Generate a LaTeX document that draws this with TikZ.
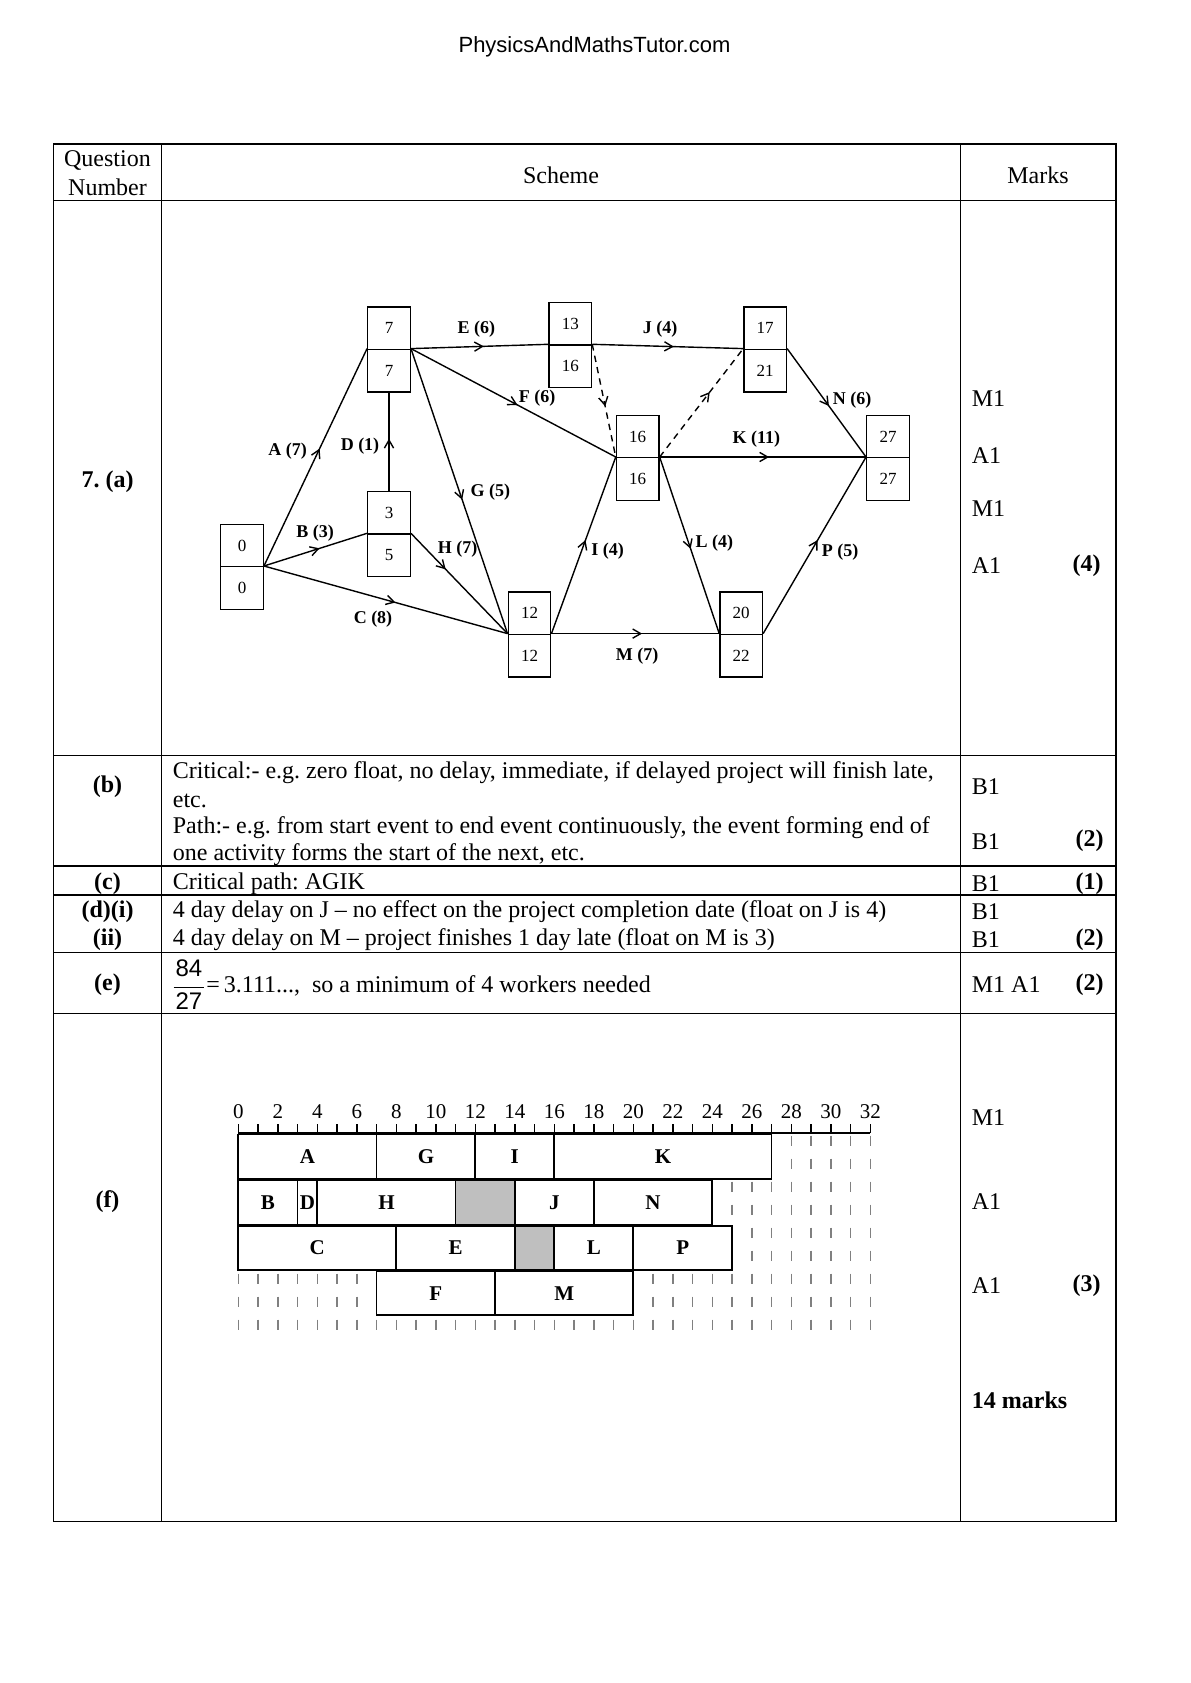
\documentclass[tikz,border=0pt]{standalone}
\usepackage{fontspec}
\setmainfont{Liberation Serif}
\newfontfamily\arialf{Liberation Sans}
\usetikzlibrary{arrows.meta,decorations.markings}
\frenchspacing
\tikzset{
  tline/.style={line width=0.6pt},
  tx/.style={inner sep=0pt, yshift=-1pt, font=\fontsize{12}{14}\selectfont},
  txl/.style={tx, anchor=west},
  txr/.style={inner sep=0pt, yshift=-1pt, anchor=east, font=\fontsize{12}{14}\selectfont\bfseries},
  txb/.style={inner sep=0pt, yshift=-1pt, font=\fontsize{12}{14}\selectfont\bfseries},
  evbox/.style={draw, line width=0.7pt, minimum width=21.25pt, minimum height=21.25pt, inner sep=0pt, font=\fontsize{8.5}{10}\selectfont},
  act/.style={line width=0.7pt, postaction={decorate}, decoration={markings, mark=at position #1 with {\arrow{Straight Barb[length=4pt,width=4.6pt,line width=0.7pt]}}}},
  act/.default=0.52,
  dum/.style={act=#1, dash pattern=on 3.2pt off 2.6pt},
  alab/.style={inner sep=0pt, font=\fontsize{9}{10}\selectfont\bfseries},
  gbox/.style={draw, fill=white, line width=0.9pt},
  ggrey/.style={draw, fill=black!25, line width=0.9pt},
  glab/.style={inner sep=0pt, font=\fontsize{10.5}{12}\selectfont\bfseries},
  gnum/.style={inner sep=0pt, font=\fontsize{10.5}{12}\selectfont},
  gdash/.style={draw=black!50, line width=0.8pt, dash pattern=on 5pt off 6.5pt},
}
\newcommand\evt[5]{%
  \node[evbox] (#1t) at (#2,#3-21.25) {#4};
  \node[evbox] (#1b) at (#2,#3+21.25) {#5};}
\begin{document}
\begin{tikzpicture}[x=0.5pt,y=-0.5pt]
\useasboundingbox (0,0) rectangle (1190,1683);
\fill[white] (0,0) rectangle (1190,1683);

% page header
\node[inner sep=0pt, font=\arialf\fontsize{11}{13}\selectfont] (hdr) at (594.5,47) {PhysicsAndMathsTutor.com};

% table frame
\draw[tline] (53.7,144) rectangle (1116,1521.7);
\draw[tline] (161.5,144) -- (161.5,1521.7);
\draw[tline] (960.5,144) -- (960.5,1521.7);
\foreach \yy in {200.5,755.5,866,895,952.3,1013.5}
  \draw[tline] (53.7,\yy) -- (1116,\yy);

% header row
\node[tx] (hq1) at (107.5,158.8) {Question};
\node[tx] (hq2) at (107.5,185.6) {Number};
\node[tx] (hs) at (561,172.8) {Scheme};
\node[tx] (hm) at (1038,172.8) {Marks};

% question column
\node[txb] (qa) at (107.5,479.7) {7. (a)};
\node[txb] (qb) at (107.5,784.4) {(b)};
\node[txb] (qc) at (107.5,882) {(c)};
\node[txb] (qd) at (107.5,910) {(d)(i)};
\node[txb] (qd2) at (107.5,938) {(ii)};
\node[txb] (qe) at (107.5,983) {(e)};
\node[txb] (qf) at (107.5,1199.7) {(f)};

% scheme texts
\node[txl] (sb1) at (172.5,770.5) {Critical:- e.g. zero float, no delay, immediate, if delayed project will finish late,};
\node[txl] (sb2) at (172.5,798.4) {etc.};
\node[txl] (sb3) at (172.5,825.2) {Path:- e.g. from start event to end event continuously, the event forming end of};
\node[txl] (sb4) at (172.5,853.1) {one activity forms the start of the next, etc.};
\node[txl] (sc) at (172.5,882) {Critical path: AGIK};
\node[txl] (sd1) at (172.5,910) {4 day delay on J -- no effect on the project completion date (float on J is 4)};
\node[txl] (sd2) at (172.5,938) {4 day delay on M -- project finishes 1 day late (float on M is 3)};
\node[tx] (sefr) at (189,985) {\arialf\renewcommand\arraystretch{1.15}\begin{tabular}{@{\kern1pt}c@{\kern1pt}}84\\\hline 27\end{tabular}};
\node[txl] (se) at (206,984) {=\,3.111..., \ so a minimum of 4 workers needed};

% marks column
\node[txl] (ma1) at (971.5,396.7) {M1};
\node[txl] (ma2) at (971.5,453.3) {A1};
\node[txl] (ma3) at (971.5,506.7) {M1};
\node[txl] (ma4) at (971.5,563.3) {A1};
\node[txr] (ma5) at (1101,563.3) {(4)};
\node[txl] (mb1) at (971.5,784.4) {B1};
\node[txl] (mb2) at (971.5,839.2) {B1};
\node[txr] (mb3) at (1104,839.2) {(2)};
\node[txl] (mc1) at (971.5,882) {B1};
\node[txr] (mc2) at (1104,882) {(1)};
\node[txl] (md1) at (971.5,910) {B1};
\node[txl] (md2) at (971.5,938) {B1};
\node[txr] (md3) at (1104,938) {(2)};
\node[txl] (me1) at (971.5,983) {M1 A1};
\node[txr] (me2) at (1104,983) {(2)};
\node[txl] (mf1) at (971.5,1116) {M1};
\node[txl] (mf2) at (971.5,1199.7) {A1};
\node[txl] (mf3) at (971.5,1283.4) {A1};
\node[txr] (mf4) at (1101,1283.4) {(3)};
\node[txb, anchor=west] (mtot) at (971.5,1398) {14 marks};

% ---------- network ----------
\evt{n0}{242}{566.7}{0}{0}
\evt{n7}{389}{349.3}{7}{7}
\evt{n3}{389}{534}{3}{5}
\evt{n13}{570.3}{345}{13}{16}
\evt{n17}{765.2}{349.3}{17}{21}
\evt{n16}{637.7}{457.7}{16}{16}
\evt{n27}{888}{457.7}{27}{27}
\evt{n12}{529.5}{634.3}{12}{12}
\evt{n20}{741.2}{634.3}{20}{22}

\draw[act=0.54] (n0b.north east) -- (n7b.north west);
\draw[act=0.54] (n0b.north east) -- (n3b.north west);
\draw[act=0.54] (n0b.north east) -- (n12b.north west);
\draw[act=0.53] (n3t.north) -- (n7b.south);
\draw[act=0.53] (n7b.north east) -- (n13b.north west);
\draw[act=0.52] (n7b.north east) -- (n16b.north west);
\draw[act=0.53] (n7b.north east) -- (n12b.north west);
\draw[act=0.36] (n3b.north east) -- (n12b.north west);
\draw[act=0.53] (n12b.north east) -- (n16b.north west);
\draw[act=0.54] (n13b.north east) -- (n17b.north west);
\draw[dum=0.55] (n13b.north east) -- (n16b.north west);
\draw[dum=0.6] (n16b.north east) -- (n17b.north west);
\draw[act=0.53] (n16b.north east) -- (n27b.north west);
\draw[act=0.52] (n16b.north east) -- (n20b.north west);
\draw[act=0.54] (n12b.north east) -- (n20b.north west);
\draw[act=0.53] (n17b.north east) -- (n27b.north west);
\draw[act=0.53] (n20b.north east) -- (n27b.north west);

\node[alab] (la) at (287.7,450.7) {A (7)};
\node[alab] (ld) at (360,445.7) {D (1)};
\node[alab] (lb) at (315,533.3) {B (3)};
\node[alab] (lc) at (373,619) {C (8)};
\node[alab] (le) at (476.3,329.3) {E (6)};
\node[alab] (lf) at (537,398.3) {F (6)};
\node[alab] (lg) at (490.3,491.7) {G (5)};
\node[alab] (lh) at (457.5,549.3) {H (7)};
\node[alab] (li) at (607.5,550.7) {I (4)};
\node[alab] (lj) at (660.2,329) {J (4)};
\node[alab] (lk) at (756.3,439.3) {K (11)};
\node[alab] (ll) at (714.3,543.3) {L (4)};
\node[alab] (lm) at (637,656) {M (7)};
\node[alab] (ln) at (852,400) {N (6)};
\node[alab] (lp) at (840,551.7) {P (5)};

% ---------- Gantt / cascade chart ----------
\begin{scope}[shift={(238.3,0)}, x=9.875pt]
  \foreach \i in {0,...,32}
    \draw[gdash] (\i,1135.5) -- (\i,1331);
  \draw[line width=0.9pt] (0,1133.3) -- (32,1133.3);
  \foreach \i in {0,...,32}
    \draw[line width=0.8pt] (\i,1124) -- (\i,1133.3);
  \foreach \i in {0,2,...,32}
    \node[gnum] (ax\i) at (\i,1112) {\i};
  % row 1
  \draw[gbox] (0,1134.5) rectangle (7,1179);
  \draw[gbox] (7,1134.5) rectangle (12,1179);
  \draw[gbox] (12,1134.5) rectangle (16,1179);
  \draw[gbox] (16,1134.5) rectangle (27,1179);
  % row 2
  \draw[gbox] (0,1180.5) rectangle (3,1224.5);
  \draw[gbox] (3,1180.5) rectangle (4,1224.5);
  \draw[gbox] (4,1180.5) rectangle (11,1224.5);
  \draw[ggrey] (11,1180.5) rectangle (14,1224.5);
  \draw[gbox] (14,1180.5) rectangle (18,1224.5);
  \draw[gbox] (18,1180.5) rectangle (24,1224.5);
  % row 3
  \draw[gbox] (0,1226) rectangle (8,1270);
  \draw[gbox] (8,1226) rectangle (14,1270);
  \draw[ggrey] (14,1226) rectangle (16,1270);
  \draw[gbox] (16,1226) rectangle (20,1270);
  \draw[gbox] (20,1226) rectangle (25,1270);
  % row 4
  \draw[gbox] (7,1271.5) rectangle (13,1315);
  \draw[gbox] (13,1271.5) rectangle (20,1315);
  % labels
  \node[glab] (gA) at (3.5,1156.7) {A};
  \node[glab] (gG) at (9.5,1156.7) {G};
  \node[glab] (gI) at (14,1156.7) {I};
  \node[glab] (gK) at (21.5,1156.7) {K};
  \node[glab] (gB) at (1.5,1202.5) {B};
  \node[glab] (gD) at (3.5,1202.5) {D};
  \node[glab] (gH) at (7.5,1202.5) {H};
  \node[glab] (gJ) at (16,1202.5) {J};
  \node[glab] (gN) at (21,1202.5) {N};
  \node[glab] (gC) at (4,1248) {C};
  \node[glab] (gE) at (11,1248) {E};
  \node[glab] (gL) at (18,1248) {L};
  \node[glab] (gP) at (22.5,1248) {P};
  \node[glab] (gF) at (10,1293.2) {F};
  \node[glab] (gM) at (16.5,1293.2) {M};
\end{scope}
\end{tikzpicture}
\end{document}
